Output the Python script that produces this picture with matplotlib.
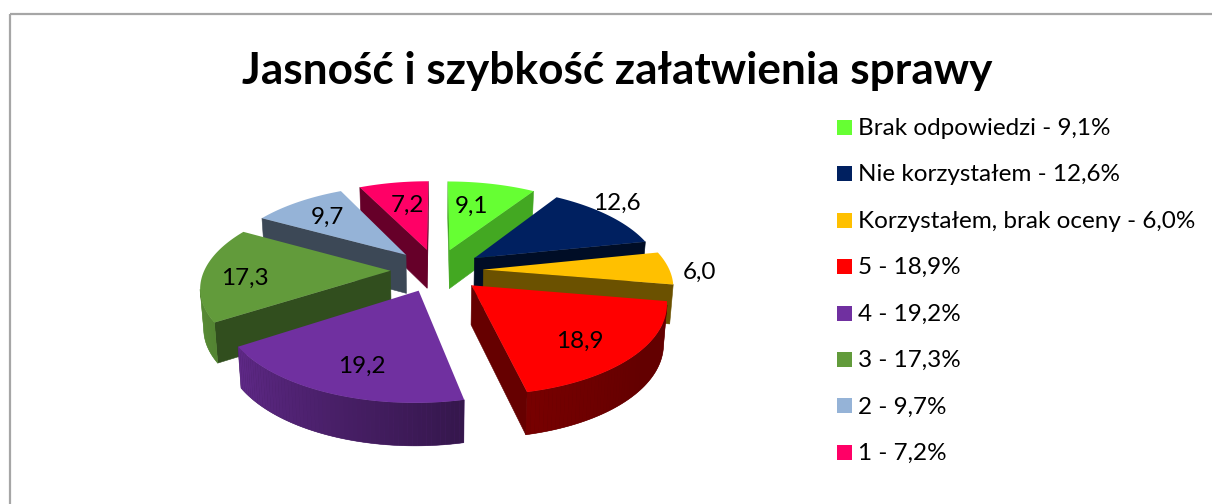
import numpy as np
import matplotlib
matplotlib.use("Agg")
import matplotlib.pyplot as plt
from matplotlib.patches import Polygon, Rectangle

plt.rcParams['font.family'] = ['Lato', 'DejaVu Sans']

# -----------------------------
# Data
# -----------------------------
categories = ["Brak odpowiedzi", "Nie korzystałem", "Korzystałem, brak oceny",
              "5", "4", "3", "2", "1"]
values = [9.1, 12.6, 6.0, 18.9, 19.2, 17.3, 9.7, 7.2]
colors = ["#66FF33", "#002060", "#FFC000", "#FF0000", "#7030A0", "#629B3B", "#95B3D7", "#FF0066"]
title = "Jasność i szybkość załatwienia sprawy"

# -----------------------------
# Look of the fake 3D pie (pixels)
# -----------------------------
CX, CY = 437, 270
RX, RY = 186, 86
EXPLODE = 0.25
PERSPECTIVE = 0.165
THICK = 39
cut_shade = [0.66, 0.40, 0.42, 0.40, 0.45, 0.50, 0.40, 0.40]
draw_order = [0, 1, 2, 3, 7, 6, 5, 4]
label_pos = [(472, 205), (617, 202), (699, 271), (580, 340),
             (362, 365), (245, 277), (327, 216), (408, 204)]


def project(x, y, bottom=False):
    f = 1.0 / (1.0 + PERSPECTIVE * y)
    sx = CX + RX * x * f
    sy = CY - RY * y * f
    if bottom:
        sx = CX + (sx - CX) * 0.985
        sy = sy + THICK * (0.6 + 0.4 * f)
    return sx, sy


def shade(color, k):
    return tuple(c * k for c in matplotlib.colors.to_rgb(color))


def rim_shade(theta):
    # light comes from the left of the picture
    return np.interp(theta, [100, 130, 168, 237, 260, 300], [0.39, 0.39, 0.47, 0.85, 0.92, 0.92])


def draw_quad(ax, pts, color, z, lw=0.0):
    ax.add_patch(Polygon(pts, closed=True, facecolor=color, edgecolor=color, lw=lw, zorder=z))


fig = plt.figure(figsize=(12.12, 5.04), dpi=100)
ax = fig.add_axes([0, 0, 1, 1])
ax.set_xlim(0, 1212)
ax.set_ylim(504, 0)
ax.axis("off")

# border, only top and left are inside the crop
ax.plot([10, 1212], [14, 14], color="#a6a6a6", lw=1.6, solid_capstyle="butt")
ax.plot([10, 10], [14, 504], color="#a6a6a6", lw=1.6, solid_capstyle="butt")

ax.text(617, 71, title, fontsize=31.8, fontweight="bold", ha="center", va="center", color="black")

# -----------------------------
# Pie slices
# -----------------------------
edges = np.cumsum([0] + values) / sum(values) * 360.0

z = 2
for i in draw_order:
    t1, t2 = edges[i], edges[i + 1]
    mid = np.radians((t1 + t2) / 2)
    ox, oy = EXPLODE * np.sin(mid), EXPLODE * np.cos(mid)
    thetas = np.linspace(t1, t2, 60)
    px = ox + np.sin(np.radians(thetas))
    py = oy + np.cos(np.radians(thetas))

    top = [project(a, b) for a, b in zip(px, py)]
    low = [project(a, b, True) for a, b in zip(px, py)]
    apex = project(ox, oy)
    apex_low = project(ox, oy, True)

    # cut faces, only those turned to the viewer
    if top[0][0] < apex[0]:
        draw_quad(ax, [apex, top[0], low[0], apex_low], shade(colors[i], cut_shade[i]), z, 0.4)
    if top[-1][0] > apex[0]:
        draw_quad(ax, [apex, top[-1], low[-1], apex_low], shade(colors[i], cut_shade[i]), z, 0.4)

    # outer rim: a solid band first so the thin gradient quads leave no seams
    front = [j for j in range(len(thetas) - 1) if top[j + 1][0] < top[j][0]]
    if front:
        a, b = front[0], front[-1] + 1
        band = top[a:b + 1] + low[a:b + 1][::-1]
        draw_quad(ax, band, shade(colors[i], rim_shade((thetas[a] + thetas[b]) / 2)), z, 0.4)
    for j in front:
        c = shade(colors[i], rim_shade((thetas[j] + thetas[j + 1]) / 2))
        draw_quad(ax, [top[j], top[j + 1], low[j + 1], low[j]], c, z)

    ax.add_patch(Polygon([apex] + top, closed=True, facecolor=colors[i], edgecolor="none", zorder=z + 0.5))
    z += 1

for v, (lx, ly) in zip(values, label_pos):
    ax.text(lx, ly + 1, f"{v:.1f}".replace(".", ","), fontsize=17.5, ha="center", va="center",
            color="black", zorder=50)

# -----------------------------
# Legend
# -----------------------------
for k, (name, v, c) in enumerate(zip(categories, values, colors)):
    ly = 127.5 + k * 46.4
    ax.add_patch(Rectangle((837, ly - 7.5), 15, 15, facecolor=c, edgecolor="none"))
    label = f"{name} - {v:.1f}%".replace(".", ",")
    ax.text(858, ly + 1, label, fontsize=17.5, ha="left", va="center", color="black")

fig.savefig("out.png", dpi=100)
